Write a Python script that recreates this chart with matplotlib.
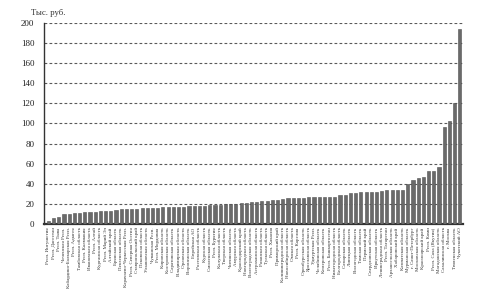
import matplotlib
matplotlib.use("Agg")
import matplotlib.pyplot as plt
import numpy as np

regions = [
    "Респ. Ингушетия", "Респ. Дагестан", "Респ. Тыва", "Чеченская Респ.",
    "Кабардино-Балкарская Респ.", "Респ. Адыгея", "Тамбовская область",
    "Респ. Калмыкия", "Ивановская область", "Респ. Алтай", "Курганская область",
    "Респ. Марий Эл", "Алтайский край", "Брянская область", "Пензенская область",
    "Карачаево-Черкесская Респ.", "Респ. Северная Осетия", "Ставропольский край",
    "Псковская область", "Ульяновская область", "Чувашская Респ.",
    "Респ. Мордовия", "Кировская область", "Костромская область",
    "Саратовская область", "Владимирская область", "Орловская область",
    "Воронежская область", "Еврейская АО", "Ростовская область",
    "Курская область", "Смоленская область", "Респ. Бурятия",
    "Калужская область", "Тверская область", "Читинская область",
    "Амурская область", "Краснодарский край", "Новгородская область",
    "Волгоградская область", "Астраханская область", "Рязанская область",
    "Тульская область", "Респ. Хакасия", "Приморский край",
    "Калининградская область", "Новосибирская область", "Омская область",
    "Респ. Карелия", "Оренбургская область", "Ярославская область",
    "Удмуртская Респ.", "Челябинская область", "Кемеровская область",
    "Респ. Башкортостан", "Нижегородская область", "Белгородская область",
    "Самарская область", "Липецкая область", "Вологодская область",
    "Томская область", "Пермский край", "Свердловская область",
    "Иркутская область", "Ленинградская область", "Респ. Татарстан",
    "Архангельская область", "Хабаровский край", "Камчатская область",
    "Мурманская область", "г. Санкт-Петербург", "Московская область",
    "Красноярский край", "Респ. Коми", "Респ. Саха (Якутия)",
    "Магаданская область", "Сахалинская область", "г. Москва",
    "Тюменская область", "Чукотский АО",
]

values = [
    3, 6, 6.5, 10, 10, 10.5, 11, 12, 12, 12,
    12.5, 12.5, 13, 13.5, 15, 15, 15, 15, 15.5, 16,
    16, 16, 16.5, 16.5, 17, 17, 17, 17.5, 17.5, 18,
    18, 18.5, 18.5, 19, 19.5, 20, 20, 20.5, 21, 21.7,
    22.3, 23, 23, 23.7, 23.7, 25, 25.3, 25.7, 26, 26,
    26.3, 26.5, 26.7, 26.7, 26.7, 26.7, 28.7, 29, 30.5, 31,
    31.3, 31.3, 31.3, 32, 32.7, 33.3, 33.3, 33.7, 33.7, 39.3,
    43.3, 46, 46.3, 52.3, 53, 56.7, 96.7, 102, 120, 194,
]

yticks = [0, 20, 40, 60, 80, 100, 120, 140, 160, 180, 200]

fig = plt.figure(figsize=(4.8, 2.95), dpi=100)
ax = fig.add_axes([0.092, 0.241, 0.872, 0.681])

x = np.arange(len(values))
ax.bar(x, values, width=0.6, color="#6a6a6a", edgecolor="#505050", linewidth=0.4, zorder=3)

ax.set_xlim(-0.8, len(values) - 0.45)
ax.set_ylim(0, 200)
ax.set_yticks(yticks)
ax.set_yticklabels([str(t) for t in yticks], family="Liberation Serif", fontsize=6.5, color="#222222")
ax.tick_params(axis="y", length=0, pad=7)
ax.tick_params(axis="x", length=0, pad=2.5)
ax.yaxis.grid(True, linestyle=(0, (2.5, 2)), color="#5a5a5a", linewidth=0.8, zorder=1)
ax.set_axisbelow(True)

ax.set_xticks(x)
ax.set_xticklabels(regions, rotation=90, family="Liberation Serif", fontsize=3.6,
                   color="#333333", va="top", ha="center")

for s in ["top", "right"]:
    ax.spines[s].set_visible(False)
ax.spines["left"].set_color("#333333")
ax.spines["left"].set_linewidth(1.0)
ax.spines["bottom"].set_color("#333333")
ax.spines["bottom"].set_linewidth(1.6)

fig.text(0.065, 0.955, "Тыс. руб.", family="Liberation Serif", fontsize=6.3,
         color="#333333", ha="left", va="center")

fig.savefig("out.png", dpi=100, facecolor="white")
